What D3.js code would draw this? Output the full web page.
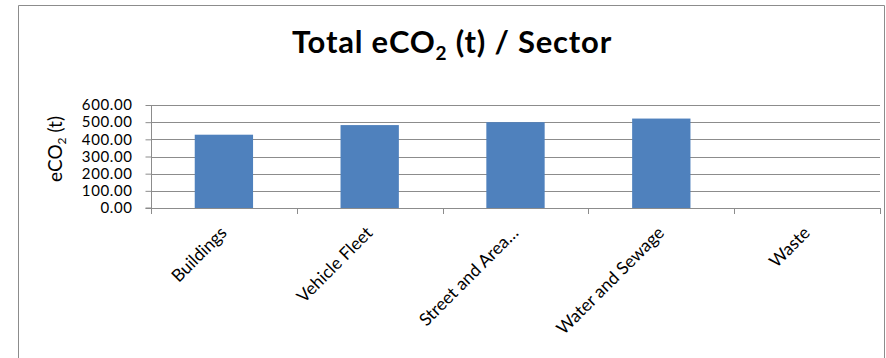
<!DOCTYPE html>
<html>
<head>
<meta charset="utf-8">
<script src="https://cdn.jsdelivr.net/npm/d3@7"></script>
<style>
  body { margin: 0; background: #fff; }
  svg { display: block; font-family: Lato, "Open Sans", sans-serif; }
</style>
</head>
<body>
<svg id="chart" width="886" height="358"></svg>
<script>
// sectors and totals (t eCO2)
const sectors = ["Buildings", "Vehicle Fleet", "Street and Area…", "Water and Sewage", "Waste"];
const totals = [427, 483, 500, 521, 0];
const yTicks = [0, 100, 200, 300, 400, 500, 600];

const svg = d3.select("#chart");
const margin = { left: 151, right: 6, top: 105, bottom: 150 };
const W = 886, H = 358;
const grey = "#8c8c8c";

// chart frame
svg.append("path")
  .attr("d", "M18.5,358 V5.5 H884.5 V358")
  .attr("fill", "none")
  .attr("stroke", grey)
  .attr("stroke-width", 1);

const x = d3.scaleBand()
  .domain(sectors)
  .range([margin.left, W - margin.right])
  .paddingInner(0.6)
  .paddingOuter(0.3);

const y = d3.scaleLinear()
  .domain([0, 600])
  .range([H - margin.bottom, margin.top]);

// gridlines
svg.append("g")
  .selectAll("line")
  .data(yTicks.slice(1))
  .join("line")
  .attr("x1", margin.left)
  .attr("x2", W - margin.right)
  .attr("y1", d => Math.round(y(d)) + 0.5)
  .attr("y2", d => Math.round(y(d)) + 0.5)
  .attr("stroke", grey);

// bars
svg.append("g")
  .selectAll("rect")
  .data(sectors.map((s, i) => ({ s, v: totals[i] })))
  .join("rect")
  .attr("x", d => x(d.s))
  .attr("y", d => y(d.v))
  .attr("width", x.bandwidth())
  .attr("height", d => y(0) - y(d.v))
  .attr("fill", "#4f81bd");

// y axis
const yAxis = svg.append("g")
  .attr("transform", `translate(${margin.left + 0.5},0)`)
  .call(d3.axisLeft(y).tickValues(yTicks).tickFormat(d3.format(".2f")).tickSize(6).tickPadding(13));
yAxis.select(".domain").attr("stroke", grey).attr("d", `M-6,${y(0)}H0V${y(600)}`);
yAxis.selectAll(".tick line").attr("stroke", grey);
yAxis.selectAll("text")
  .attr("font-size", 15)
  .attr("letter-spacing", 0.6)
  .attr("fill", "#000")
  .attr("font-family", "Lato");

// x axis: tick marks at category boundaries
const bounds = d3.range(sectors.length + 1).map(i => margin.left + i * x.step());
const xg = svg.append("g");
xg.append("line")
  .attr("x1", margin.left).attr("x2", W - margin.right)
  .attr("y1", Math.round(y(0)) + 0.5).attr("y2", Math.round(y(0)) + 0.5)
  .attr("stroke", grey);
xg.selectAll("line.tk")
  .data(bounds)
  .join("line")
  .attr("class", "tk")
  .attr("x1", d => Math.round(d) + 0.5).attr("x2", d => Math.round(d) + 0.5)
  .attr("y1", y(0)).attr("y2", y(0) + 6)
  .attr("stroke", grey);
xg.selectAll("text")
  .data(sectors)
  .join("text")
  .attr("transform", d => `translate(${x(d) + x.bandwidth() / 2 + 4},${y(0) + 26}) rotate(-45)`)
  .attr("text-anchor", "end")
  .attr("font-size", 17.5)
  .text(d => d);

// y axis title
const yt = svg.append("text")
  .attr("transform", `translate(62,149) rotate(-90)`)
  .attr("text-anchor", "middle")
  .attr("font-size", 19);
yt.append("tspan").text("eCO");
yt.append("tspan").attr("font-size", 12).attr("dy", 4).text("2");
yt.append("tspan").attr("dy", -4).text(" (t)");

// title
const title = svg.append("text")
  .attr("x", 452).attr("y", 53)
  .attr("text-anchor", "middle")
  .attr("font-size", 31)
  .attr("letter-spacing", 0.8)
  .attr("font-weight", "bold");
title.append("tspan").text("Total eCO");
title.append("tspan").attr("font-size", 19).attr("dy", 7).text("2");
title.append("tspan").attr("dy", -7).text(" (t) / Sector");
</script>
</body>
</html>
